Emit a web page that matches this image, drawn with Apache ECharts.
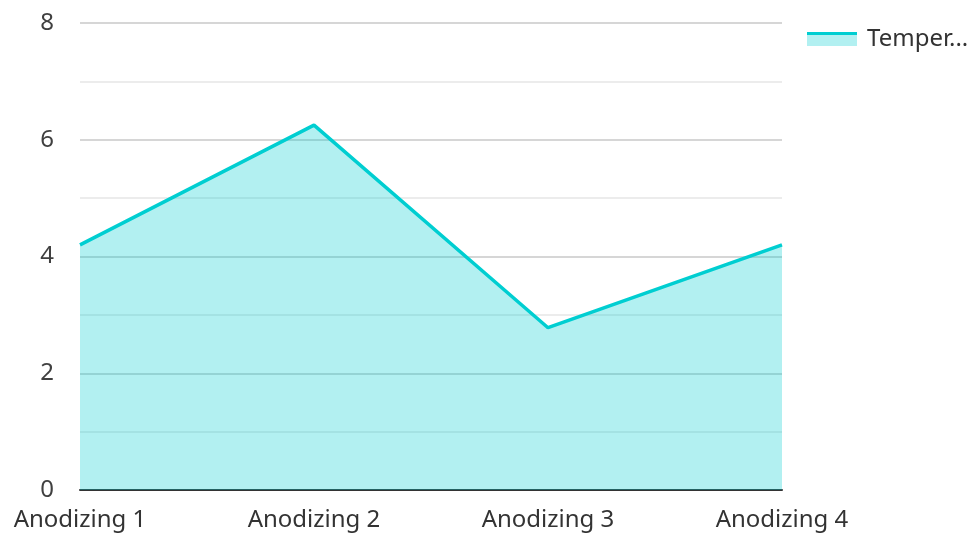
<!DOCTYPE html>
<html><head><meta charset="utf-8">
<script src="https://cdn.jsdelivr.net/npm/echarts@6/dist/echarts.min.js"></script>
<style>html,body{margin:0;padding:0;background:#fff}#c{width:972px;height:533px}</style>
</head><body><div id="c"></div>
<script>
const categories = ['Anodizing 1', 'Anodizing 2', 'Anodizing 3', 'Anodizing 4'];
const seriesName = 'Temperature';
const values = [4.2, 6.25, 2.78, 4.2];
const yTicks = { min: 0, max: 8, interval: 2 };

const chart = echarts.init(document.getElementById('c'));
const font = 'Noto Sans';
chart.setOption({
  animation: false,
  grid: { left: 80, right: 190, top: 23, bottom: 43, containLabel: false },
  legend: {
    left: 802, top: 22,
    icon: 'rect', itemWidth: 50, itemHeight: 14, itemGap: 10,
    data: [{
      name: seriesName,
      itemStyle: {
        color: new echarts.graphic.LinearGradient(0, 0, 0, 1, [
          { offset: 0, color: '#00CED1' }, { offset: 0.22, color: '#00CED1' },
          { offset: 0.22, color: '#b2f0f1' }, { offset: 1, color: '#b2f0f1' }
        ])
      }
    }],
    textStyle: { fontFamily: font, fontSize: 24, color: '#333', width: 108, overflow: 'truncate', ellipsis: '...', padding: [0, 0, 0, 5] }
  },
  xAxis: {
    type: 'category', data: categories, boundaryGap: false,
    axisLine: { lineStyle: { color: '#333', width: 2 } },
    axisTick: { show: false },
    axisLabel: { fontFamily: font, fontSize: 24, color: '#333', margin: 18 }
  },
  yAxis: {
    type: 'value', min: yTicks.min, max: yTicks.max, interval: yTicks.interval,
    axisLine: { show: false }, axisTick: { show: false },
    axisLabel: { fontFamily: font, fontSize: 24, color: '#404040', margin: 26 },
    splitLine: { lineStyle: { color: '#c8c8c8', width: 1.5 } },
    minorTick: { show: false, splitNumber: 2 },
    minorSplitLine: { show: true, lineStyle: { color: '#e6e6e6', width: 1.5 } }
  },
  series: [{
    name: seriesName, type: 'line', data: values,
    symbol: 'none',
    lineStyle: { color: '#00CED1', width: 3.5 },
    itemStyle: { color: '#00CED1' },
    areaStyle: { color: '#00CED1', opacity: 0.3 }
  }]
});
</script></body></html>
